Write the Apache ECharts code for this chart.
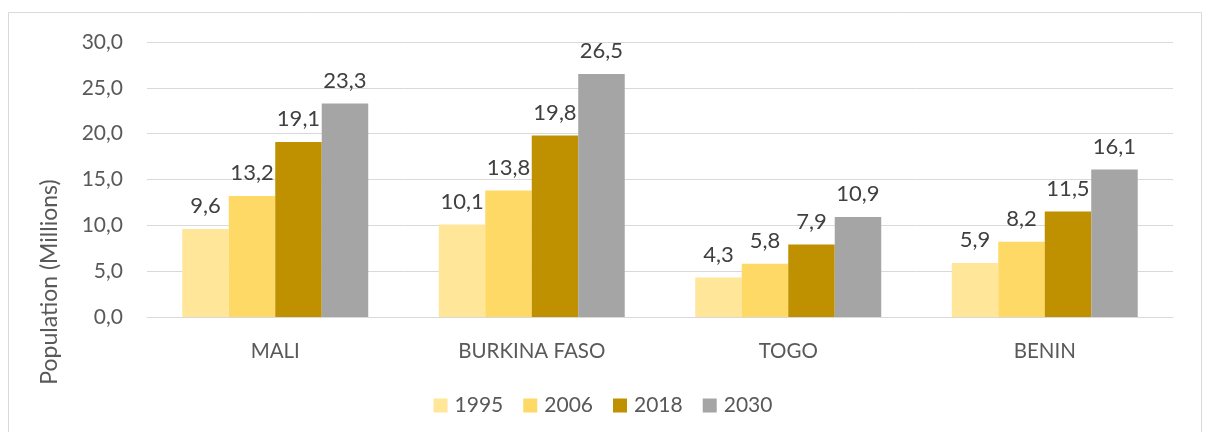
<!DOCTYPE html>
<html><head><meta charset="utf-8">
<script src="https://cdn.jsdelivr.net/npm/echarts@6/dist/echarts.min.js"></script>
<style>html,body{margin:0;padding:0;background:#fff}#c{width:1206px;height:432px}</style>
</head><body><div id="c"></div>
<script>
const categories = ["MALI", "BURKINA FASO", "TOGO", "BENIN"];
const seriesNames = ["1995", "2006", "2018", "2030"];
const v1995 = [9.6, 10.1, 4.3, 5.9];
const v2006 = [13.2, 13.8, 5.8, 8.2];
const v2018 = [19.1, 19.8, 7.9, 11.5];
const v2030 = [23.3, 26.5, 10.9, 16.1];
const colors = ["#FFE699", "#FFD966", "#BF9000", "#A5A5A5"];
const yTicks = [0, 5, 10, 15, 20, 25, 30];
const FONT = "Lato";
const fmt = v => Number(v).toFixed(1).replace('.', ',');
const data = [v1995, v2006, v2018, v2030];
const chart = echarts.init(document.getElementById('c'));
chart.setOption({
  animation: false,
  textStyle: { fontFamily: FONT },
  graphic: [
    { type: 'rect', shape: { x: 8.5, y: 12.5, width: 1193, height: 430 }, style: { fill: 'none', stroke: '#D9D9D9', lineWidth: 1 }, silent: true },
    { type: 'text', x: 50, y: 282, rotation: Math.PI / 2, style: { text: 'Population (Millions)', font: '23px ' + FONT, fill: '#595959', textAlign: 'center', textVerticalAlign: 'middle' } }
  ],
  grid: { left: 147, right: 33, top: 42, bottom: 115, containLabel: false },
  legend: {
    data: seriesNames, top: 390, left: 'center', itemWidth: 14, itemHeight: 14, itemGap: 20,
    icon: 'rect', textStyle: { fontSize: 21, color: '#595959', fontFamily: FONT, padding: [0, 0, 0, 2] }
  },
  xAxis: {
    type: 'category', data: categories,
    axisLine: { lineStyle: { color: '#D9D9D9', width: 1 } },
    axisTick: { show: false },
    axisLabel: { fontSize: 20.5, color: '#595959', margin: 24, fontFamily: FONT }
  },
  yAxis: {
    type: 'value', min: yTicks[0], max: yTicks[yTicks.length - 1], interval: 5,
    axisLine: { show: false }, axisTick: { show: false },
    splitLine: { lineStyle: { color: '#D9D9D9', width: 1 } },
    axisLabel: { fontSize: 21, color: '#595959', margin: 24, formatter: fmt, fontFamily: FONT }
  },
  series: seriesNames.map((n, i) => ({
    name: n, type: 'bar', data: data[i], barGap: '0%', barCategoryGap: '27.5%',
    itemStyle: { color: colors[i] },
    label: { show: true, position: 'top', distance: 12, fontSize: 22, color: '#404040', formatter: p => fmt(p.value), fontFamily: FONT }
  }))
});
</script></body></html>
